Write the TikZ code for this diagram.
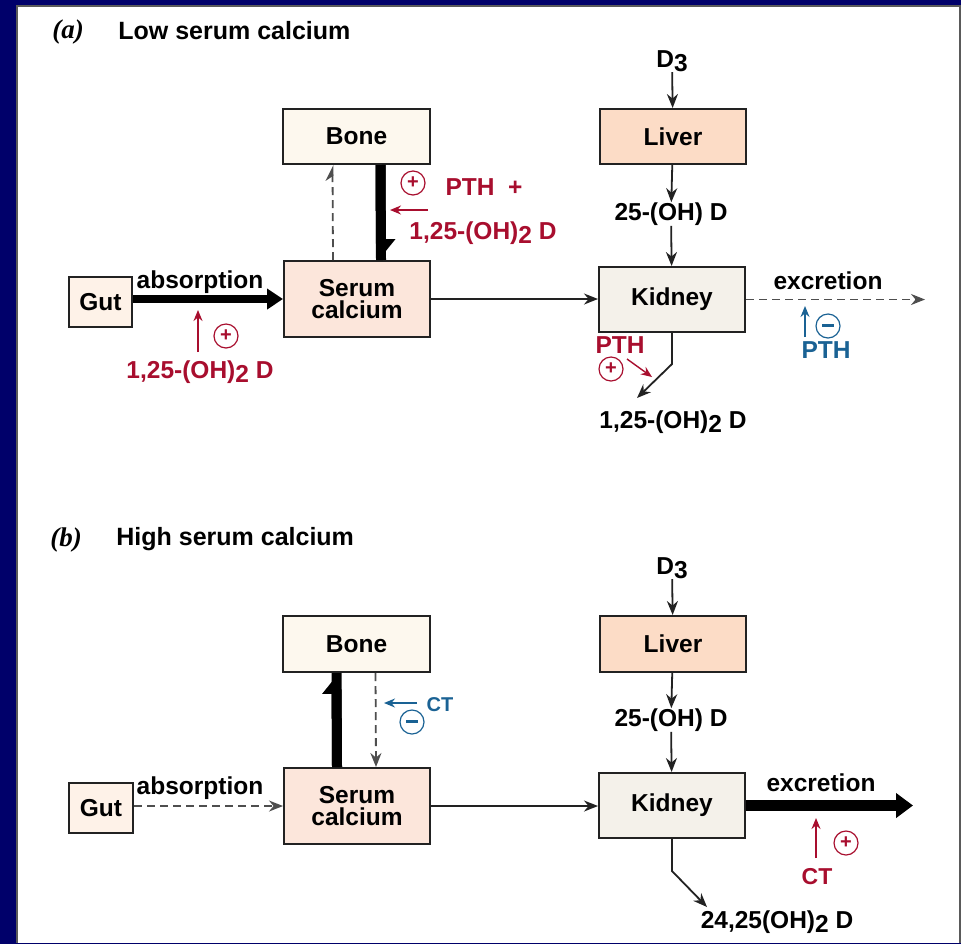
\documentclass[tikz,border=0pt]{standalone}
\usepackage{fontspec}
\setmainfont{Liberation Sans}
\newfontfamily\tagfont{Liberation Serif}
\usetikzlibrary{arrows.meta}
\definecolor{navy}{HTML}{00006A}
\definecolor{royal}{HTML}{0000B0}
\definecolor{frame}{HTML}{5A5A5A}
\definecolor{boneclr}{HTML}{FDF8EE}
\definecolor{serumclr}{HTML}{FCE6DB}
\definecolor{liverclr}{HTML}{FCDCC6}
\definecolor{gutclr}{HTML}{FEF2E8}
\definecolor{kidneyclr}{HTML}{F4F1EA}
\definecolor{ink}{HTML}{222222}
\definecolor{mred}{HTML}{A80E2E}
\definecolor{mblue}{HTML}{1A6294}
\newcommand{\lowd}[1]{\raisebox{-0.32ex}{#1}}
\tikzset{box/.style = {draw=ink, line width=1pt, inner sep=0pt, align=center,
                       font=\bfseries\fontsize{12.25}{11}\selectfont},
         lbl/.style = {inner sep=0pt, font=\bfseries\fontsize{12.25}{14}\selectfont},
         heading/.style = {anchor=base west, inner sep=0pt, font=\bfseries\fontsize{12.5}{14}\selectfont},
         tag/.style = {anchor=base west, inner sep=0pt, font=\tagfont\bfseries\itshape\fontsize{13.5}{14}\selectfont},
         flow/.style = {draw=ink, line width=0.9pt, -{Stealth[length=7pt,width=5.5pt]}},
         dashflow/.style = {flow, draw=ink!80, dash pattern=on 4pt off 2.5pt},
         dashup/.style = {dashflow, -{Stealth[harpoon,length=7pt,width=7pt]}},
         bigflow/.style = {line width=4pt, -{Triangle[length=8pt,width=10pt]}},
         bar/.style = {line width=5pt},
         halfhead/.style = {line width=5pt, -{Triangle[harpoon,length=9pt,width=14pt]}},
         redarr/.style = {draw=mred, line width=0.7pt, -{Stealth[length=5.5pt,width=4.5pt]}},
         bluearr/.style = {redarr, draw=mblue},
         sign/.style = {circle, draw, line width=0.6pt, minimum size=12pt, inner sep=0pt,
                        font=\bfseries\fontsize{10}{10}\selectfont}}

\begin{document}
\begin{tikzpicture}[x=0.5pt, y=-0.5pt]
  \useasboundingbox (0,0) rectangle (961,943);
  \shade [top color=navy, middle color=royal, bottom color=navy] (0,0) rectangle (961,943);
  \fill [white] (17,6) rectangle (960,943);
  \draw [frame, line width=0.75pt] (17,943) -- (17,6) -- (960,6) -- (960,943);

  % (a) low serum calcium
  \node [tag] (taga) at (52,38) {(a)};
  \node [heading] (titlea) at (118,39) {Low serum calcium};

  \node [box, fill=boneclr, minimum width=73.5pt, minimum height=27.5pt] (bonea) at (356.5,136.5) {Bone};
  \node [box, fill=liverclr, minimum width=73pt, minimum height=27.5pt] (livera) at (673,136.5) {Liver};
  \node [box, fill=serumclr, minimum width=73pt, minimum height=38pt] (seruma) at (357,299) {Serum\\calcium};
  \node [box, fill=kidneyclr, minimum width=73pt, minimum height=32.5pt] (kidneya) at (672,299.5) {Kidney};
  \node [box, fill=gutclr, minimum width=31.5pt, minimum height=25pt] (guta) at (100.5,302) {Gut};

  \node [lbl] (d3a) at (672,61) {D\lowd{3}};
  \node [lbl] (ohda) at (671,214) {25-(OH) D};
  \node [lbl] (absa) at (200,282) {absorption};
  \node [lbl] (exca) at (828,281) {excretion};
  \node [lbl] (calca) at (673,422) {1,25-(OH)\lowd{2} D};
  \node [lbl, mred] (gutda) at (200,372) {1,25-(OH)\lowd{2} D};
  \node [lbl, mred] (pthbone) at (484,187) {PTH\ \ +};
  \node [lbl, mred] (bonedd) at (483,233) {1,25-(OH)\lowd{2} D};
  \node [lbl, mred] (pthkid) at (620,345) {PTH};
  \node [lbl, mblue] (pthex) at (826,350) {PTH};

  \node [sign, mred] (sga) at (226,336) {+};
  \node [sign, mred] (sbone) at (413,183) {+};
  \node [sign, mred] (skid) at (611,369) {+};
  \node [sign, mblue] (sexa) at (828,326) {\raisebox{0.1ex}{\rule{6pt}{1.3pt}}};

  \coordinate (exa) at (925,300);
  \coordinate (kda) at (637,398);
  \coordinate (ga1) at (198,352);
  \coordinate (ga2) at (198,310);
  \coordinate (pa1) at (428,210);
  \coordinate (pa2) at (390,210);
  \coordinate (ea1) at (805,337);
  \coordinate (ea2) at (805,306);
  \coordinate (kp1) at (627,359);
  \coordinate (kp2) at (652,377);

  \draw [flow] (d3a) -- (livera);
  \draw [flow] (livera) -- (ohda);
  \draw [flow] (ohda) -- (kidneya);
  \draw [bigflow] (guta.east |- seruma.west) -- (seruma.west);
  \draw [flow] (seruma.east) -- (seruma.east -| kidneya.west);
  \draw [dashflow] (kidneya.east) -- (kidneya.east -| exa);
  \draw [flow] (kidneya.south) -- ++(0,31) -- (kda);
  \draw [dashup] ([xshift=-12pt]seruma.north) -- ([xshift=-12pt]bonea.south);
  \draw [bar] ([xshift=12pt]bonea.south) -- ([xshift=12pt]seruma.north);
  \draw [halfhead] ([xshift=12pt]bonea.south) -- ([xshift=12pt]seruma.north);
  \draw [redarr] (ga1) -- (ga2);
  \draw [redarr] (pa1) -- (pa2);
  \draw [redarr] (kp1) -- (kp2);
  \draw [bluearr] (ea1) -- (ea2);

  % (b) high serum calcium
  \node [tag] (tagb) at (50,546) {(b)};
  \node [heading] (titleb) at (116,545) {High serum calcium};

  \node [box, fill=boneclr, minimum width=73.5pt, minimum height=28pt] (boneb) at (356.5,644) {Bone};
  \node [box, fill=liverclr, minimum width=73pt, minimum height=28pt] (liverb) at (673,644) {Liver};
  \node [box, fill=serumclr, minimum width=73pt, minimum height=38pt] (serumb) at (357,806) {Serum\\calcium};
  \node [box, fill=kidneyclr, minimum width=73pt, minimum height=32.5pt] (kidneyb) at (672,805.5) {Kidney};
  \node [box, fill=gutclr, minimum width=32pt, minimum height=25pt] (gutb) at (101,808) {Gut};

  \node [lbl] (d3b) at (672,568) {D\lowd{3}};
  \node [lbl] (ohdb) at (671,720) {25-(OH) D};
  \node [lbl] (absb) at (200,788) {absorption};
  \node [lbl] (excb) at (821,783) {excretion};
  \node [lbl] (calcb) at (777,922) {24,25(OH)\lowd{2} D};
  \node [lbl, mblue, font=\bfseries\fontsize{10}{12}\selectfont] (ctbone) at (440,705) {CT};
  \node [lbl, mred, font=\bfseries\fontsize{11.5}{12}\selectfont] (ctex) at (817,877) {CT};

  \node [sign, mblue] (sbneg) at (412,722) {\raisebox{0.1ex}{\rule{6pt}{1.3pt}}};
  \node [sign, mred] (sexb) at (846,843) {+};

  \coordinate (exb) at (913,807);
  \coordinate (kdb) at (707,907);
  \coordinate (cb1) at (417,703);
  \coordinate (cb2) at (384,703);
  \coordinate (ct1) at (816,858);
  \coordinate (ct2) at (816,818);

  \draw [flow] (d3b) -- (liverb);
  \draw [flow] (liverb) -- (ohdb);
  \draw [flow] (ohdb) -- (kidneyb);
  \draw [dashflow] (gutb.east |- serumb.west) -- (serumb.west);
  \draw [flow] (serumb.east) -- (serumb.east -| kidneyb.west);
  \draw [line width=5.5pt, -{Triangle[length=8.5pt,width=12pt]}] (kidneyb.east) -- (kidneyb.east -| exb);
  \draw [flow] (kidneyb.south) -- ++(0,32) -- (kdb);
  \draw [bar] ([xshift=-10pt]serumb.north) -- ([xshift=-10pt]boneb.south);
  \draw [halfhead] ([xshift=-10pt]serumb.north) -- ([xshift=-10pt]boneb.south);
  \draw [dashflow] ([xshift=9.5pt]boneb.south) -- ([xshift=9.5pt]serumb.north);
  \draw [bluearr] (cb1) -- (cb2);
  \draw [redarr] (ct1) -- (ct2);
\end{tikzpicture}
\end{document}
